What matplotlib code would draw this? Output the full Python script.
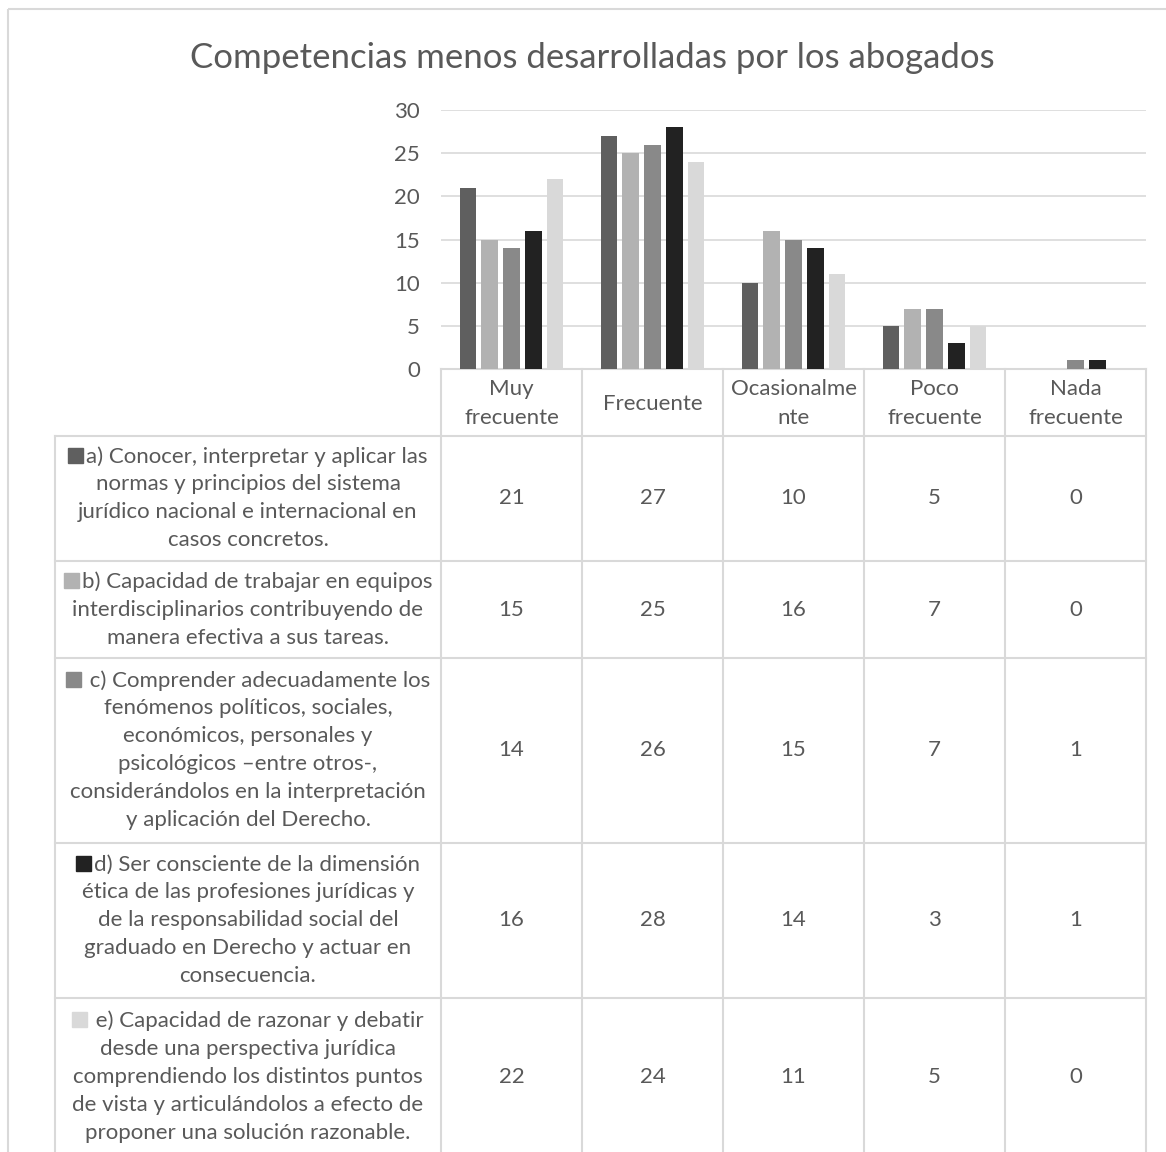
import matplotlib

matplotlib.use("Agg")
import matplotlib.pyplot as plt  # noqa: E402
import numpy as np  # noqa: E402
from matplotlib.patches import Rectangle  # noqa: E402

# --- data -------------------------------------------------------------
CATEGORIES = ["Muy\nfrecuente", "Frecuente", "Ocasionalme\nnte", "Poco\nfrecuente", "Nada\nfrecuente"]

SERIES_A = [21, 27, 10, 5, 0]
SERIES_B = [15, 25, 16, 7, 0]
SERIES_C = [14, 26, 15, 7, 1]
SERIES_D = [16, 28, 14, 3, 1]
SERIES_E = [22, 24, 11, 5, 0]

LABEL_A = ["a) Conocer, interpretar y aplicar las", "normas y principios del sistema",
           "jurídico nacional e internacional en", "casos concretos."]
LABEL_B = ["b) Capacidad de trabajar en equipos", "interdisciplinarios contribuyendo de",
           "manera efectiva a sus tareas."]
LABEL_C = [" c) Comprender adecuadamente los", "fenómenos políticos, sociales,",
           "económicos, personales y", "psicológicos –entre otros-,",
           "considerándolos en la interpretación", "y aplicación del Derecho."]
LABEL_D = ["d) Ser consciente de la dimensión", "ética de las profesiones jurídicas y",
           "de la responsabilidad social del", "graduado en Derecho y actuar en",
           "consecuencia."]
LABEL_E = [" e) Capacidad de razonar y debatir", "desde una perspectiva jurídica",
           "comprendiendo los distintos puntos", "de vista y articulándolos a efecto de",
           "proponer una solución razonable."]

TITLE = "Competencias menos desarrolladas por los abogados"

# --- style ------------------------------------------------------------
COLORS = ["#5f5f5f", "#b2b2b2", "#898989", "#222222", "#d9d9d9"]
TEXT = "#595959"
LINE = "#d9d9d9"
FONT = ["Lato", "DejaVu Sans"]
FS = 16

plt.rcParams["font.family"] = FONT

W, H = 1166, 1152
fig = plt.figure(figsize=(W / 100, H / 100), dpi=100)

# pixel overlay for title, frame and table
ov = fig.add_axes([0, 0, 1, 1])
ov.set_xlim(0, W)
ov.set_ylim(H, 0)
ov.axis("off")

# chart frame
ov.add_patch(Rectangle((8, 9), W + 20, H + 20, fill=False, edgecolor=LINE, linewidth=1.5))
ov.text(592, 58, TITLE, ha="center", va="center", fontsize=25, color=TEXT)

# --- bar plot ----------------------------------------------------------
X0, X1 = 441, 1146
Y_TOP, Y_ZERO = 110, 369
ax = fig.add_axes([X0 / W, 1 - Y_ZERO / H, (X1 - X0) / W, (Y_ZERO - Y_TOP) / H])
ax.patch.set_alpha(0)

series = [SERIES_A, SERIES_B, SERIES_C, SERIES_D, SERIES_E]
x = np.arange(len(CATEGORIES))
step, width = 0.154, 0.118
for i, (vals, col) in enumerate(zip(series, COLORS)):
    ax.bar(x + (i - 2) * step, vals, width=width, color=col, zorder=3)

ax.set_xlim(-0.5, len(CATEGORIES) - 0.5)
ax.set_ylim(0, 30)
ax.set_yticks(range(0, 31, 5))
ax.set_xticks([])
ax.tick_params(axis="y", length=0, pad=15, labelsize=FS, labelcolor=TEXT)
ax.yaxis.grid(True, color=LINE, linewidth=1.2, zorder=0)
for s in ax.spines.values():
    s.set_visible(False)

# --- data table ---------------------------------------------------------
col_edges = np.linspace(X0, X1, len(CATEGORIES) + 1)
LAB_X0 = 55
row_edges = [436, 561, 658, 843, 998, 1156]
HEAD_TOP = Y_ZERO

lw = 1.5
# header
ov.plot([X0, X1], [HEAD_TOP, HEAD_TOP], color=LINE, lw=lw)
for cx in col_edges:
    ov.plot([cx, cx], [HEAD_TOP, H + 5], color=LINE, lw=lw)
ov.plot([LAB_X0, LAB_X0], [row_edges[0], H + 5], color=LINE, lw=lw)
for ry in row_edges:
    ov.plot([LAB_X0, X1], [ry, ry], color=LINE, lw=lw)

for j, cat in enumerate(CATEGORIES):
    cx = (col_edges[j] + col_edges[j + 1]) / 2
    ov.text(cx, (HEAD_TOP + row_edges[0]) / 2 + 1, cat, ha="center", va="center",
            fontsize=FS, color=TEXT, linespacing=1.55)

labels = [LABEL_A, LABEL_B, LABEL_C, LABEL_D, LABEL_E]
pitch = 28
lab_cx = (LAB_X0 + X0) / 2
first_lines = []
for r, (lines, vals) in enumerate(zip(labels, series)):
    cy = (row_edges[r] + row_edges[r + 1]) / 2
    y0 = cy - pitch * (len(lines) - 1) / 2
    for k, ln in enumerate(lines):
        xc = lab_cx + 9 if k == 0 else lab_cx
        t = ov.text(xc, y0 + k * pitch, ln, ha="center", va="center",
                    fontsize=FS, color=TEXT)
        if k == 0:
            first_lines.append((t, y0))
    for j, v in enumerate(vals):
        cx = (col_edges[j] + col_edges[j + 1]) / 2
        ov.text(cx, cy, str(v), ha="center", va="center", fontsize=FS, color=TEXT)

# legend keys placed left of each first label line
fig.canvas.draw()
renderer = fig.canvas.get_renderer()
for (t, y0), col in zip(first_lines, COLORS):
    bb = t.get_window_extent(renderer=renderer)
    left = ov.transData.inverted().transform((bb.x0, bb.y0))[0]
    ov.add_patch(Rectangle((left - 18, y0 - 9), 15, 15, color=col))

fig.savefig("out.png", dpi=100)
